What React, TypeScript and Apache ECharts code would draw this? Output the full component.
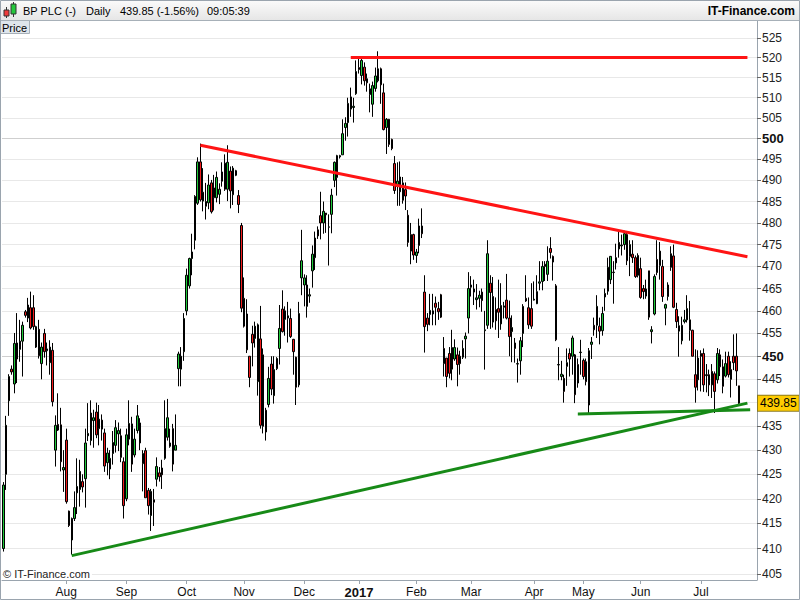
import React, { useEffect, useRef } from "react";
import * as echarts from "echarts";

// ---- Data (BP PLC daily, 29 Jun 2016 -> 24 Jul 2017) ----
const opens = [
  410.0, 425.0, 440.4, 447.2, 444.0, 452.9, 451.5, 453.3, 459.8, 458.4,
  460.7, 460.7, 452.0, 455.9, 448.4, 455.0, 451.2, 448.6, 451.3, 430.0,
  435.4, 435.3, 425.9, 432.1, 417.5, 411.7, 416.0, 421.2, 421.9, 423.5,
  424.1, 433.0, 432.0, 436.2, 438.0, 436.5, 436.3, 433.6, 427.4, 426.1,
  429.3, 431.0, 433.4, 433.0, 427.6, 420.0, 432.3, 435.5, 429.0, 434.1,
  435.7, 427.2, 429.9, 421.7, 416.6, 419.8, 424.0, 425.3, 426.3, 428.3,
  432.7, 430.8, 434.5, 430.0, 447.3, 447.2, 451.0, 460.0, 465.6, 471.8,
  476.0, 484.6, 494.4, 487.2, 483.9, 484.7, 489.4, 485.9, 485.9, 486.7,
  489.8, 494.1, 487.9, 492.2, 486.6, 491.2, 486.4, 479.4, 462.8, 459.3,
  450.0, 454.8, 453.9, 444.5, 453.8, 450.3, 438.4, 439.6, 448.3, 441.5,
  447.3, 451.7, 460.4, 460.0, 458.4, 458.3, 453.7, 449.8, 443.8, 467.4,
  465.8, 461.0, 463.3, 469.0, 472.0, 478.4, 481.7, 480.0, 482.3, 479.0,
  482.0, 490.0, 490.7, 495.6, 496.1, 502.7, 503.9, 507.2, 507.6, 511.0,
  517.5, 515.5, 517.6, 514.7, 510.8, 508.4, 512.3, 514.2, 517.2, 511.2,
  502.7, 504.7, 499.8, 494.0, 488.6, 490.8, 489.4, 487.8, 481.8, 477.3,
  477.3, 472.5, 474.8, 479.3, 464.2, 458.4, 459.2, 459.3, 461.7, 460.5,
  463.6, 451.7, 449.6, 450.6, 447.2, 449.4, 450.3, 450.0, 449.8, 453.8,
  458.4, 465.3, 464.2, 462.5, 462.8, 464.2, 455.6, 456.8, 466.2, 463.2,
  460.3, 460.5, 457.1, 460.8, 462.4, 458.4, 455.4, 452.9, 448.3, 449.0,
  455.0, 462.8, 460.7, 460.5, 462.4, 461.6, 466.2, 466.6, 470.5, 468.2,
  474.1, 472.3, 465.6, 448.1, 445.6, 445.2, 447.8, 450.6, 450.0, 450.3,
  448.2, 450.8, 449.1, 448.8, 439.5, 452.6, 456.8, 456.8, 456.6, 455.6,
  463.1, 464.4, 467.0, 468.6, 470.8, 474.0, 474.7, 475.0, 477.3, 472.3,
  472.8, 472.0, 468.0, 469.5, 465.0, 463.3, 469.0, 455.4, 459.3, 471.6,
  473.5, 470.0, 460.6, 463.2, 469.8, 472.4, 460.3, 455.5, 453.4, 457.6,
  458.0, 458.0, 455.7, 446.0, 444.9, 450.6, 450.6, 446.0, 446.0, 446.7,
  446.2, 444.9, 450.3, 447.7, 445.7, 450.0, 447.1, 450.0, 450.0, 443.6,
];
const closes = [
  422.8, 435.2, 445.6, 446.6, 452.8, 449.4, 453.3, 456.8, 459.0, 461.3,
  456.2, 456.5, 456.5, 450.1, 452.0, 451.0, 451.6, 452.0, 440.2, 435.2,
  434.2, 427.6, 426.4, 419.4, 414.6, 416.0, 418.2, 422.5, 425.6, 422.4,
  431.5, 433.5, 437.8, 436.8, 433.2, 434.5, 434.4, 426.7, 429.4, 428.3,
  431.6, 434.7, 434.1, 428.5, 418.6, 433.2, 435.6, 427.1, 432.3, 437.2,
  431.5, 429.3, 420.2, 418.6, 421.5, 419.3, 426.6, 424.5, 424.9, 434.5,
  436.8, 431.5, 427.1, 431.0, 450.5, 450.0, 458.3, 468.0, 471.8, 473.3,
  486.2, 494.4, 485.4, 485.1, 485.0, 488.9, 482.6, 488.2, 490.7, 487.9,
  492.0, 487.9, 494.3, 487.5, 492.9, 492.3, 484.3, 460.6, 456.6, 451.4,
  445.4, 452.9, 456.6, 456.9, 435.2, 435.0, 433.8, 445.2, 442.9, 447.1,
  449.5, 456.1, 455.4, 458.1, 458.9, 454.3, 451.0, 443.3, 459.4, 471.3,
  467.4, 465.8, 463.6, 472.8, 476.5, 477.0, 480.0, 482.7, 481.9, 479.1,
  486.5, 494.3, 495.9, 495.9, 501.2, 503.7, 508.6, 510.2, 507.9, 516.5,
  517.0, 519.3, 514.2, 513.7, 512.2, 513.0, 515.4, 517.2, 513.2, 502.2,
  504.7, 498.6, 497.6, 487.6, 489.8, 487.3, 485.3, 486.3, 475.5, 473.5,
  472.6, 473.3, 479.3, 477.5, 456.5, 457.0, 460.1, 460.0, 460.8, 459.8,
  458.6, 448.4, 445.6, 446.3, 451.9, 451.9, 448.2, 448.4, 451.7, 454.4,
  465.0, 465.8, 464.9, 462.9, 463.5, 462.3, 455.8, 472.9, 464.1, 457.5,
  457.8, 459.7, 461.2, 461.1, 458.4, 454.3, 456.3, 451.7, 448.4, 453.4,
  461.0, 462.2, 456.9, 456.6, 462.6, 464.3, 466.5, 470.0, 470.0, 471.2,
  473.2, 471.0, 453.6, 448.2, 446.1, 442.4, 448.6, 449.4, 454.0, 441.7,
  444.2, 450.9, 445.6, 444.5, 451.2, 453.1, 455.8, 461.0, 455.5, 459.4,
  463.9, 469.8, 472.3, 468.7, 472.0, 475.5, 474.9, 477.5, 471.3, 475.0,
  472.0, 467.7, 472.5, 463.0, 464.3, 464.9, 458.6, 455.8, 467.7, 468.6,
  470.2, 463.2, 461.4, 465.8, 472.9, 460.8, 457.6, 456.7, 456.8, 458.0,
  460.5, 455.7, 450.0, 443.3, 449.6, 450.0, 443.8, 445.8, 443.8, 443.8,
  442.4, 450.6, 447.7, 443.5, 448.4, 446.0, 445.0, 448.6, 446.82, 439.85,
];
const lows = [
  409.4, 421.8, 437.2, 446.0, 442.0, 444.2, 448.8, 445.6, 458.5, 457.5,
  455.9, 455.8, 451.8, 449.5, 445.0, 449.7, 448.0, 446.0, 439.2, 426.6,
  434.0, 425.6, 421.4, 419.0, 414.3, 408.8, 415.5, 416.9, 418.4, 421.3,
  418.2, 431.9, 431.0, 430.5, 432.5, 431.0, 432.0, 425.5, 424.8, 424.0,
  427.0, 429.5, 429.8, 427.5, 416.0, 419.5, 431.0, 425.5, 428.5, 433.5,
  430.0, 421.5, 420.2, 416.8, 413.5, 414.5, 422.5, 423.5, 422.0, 428.0,
  432.0, 430.5, 425.6, 430.0, 443.5, 443.5, 449.0, 459.0, 465.0, 468.0,
  473.9, 484.2, 485.0, 482.7, 480.8, 483.2, 482.2, 482.9, 484.8, 484.4,
  488.5, 487.5, 485.1, 483.4, 484.2, 491.0, 482.3, 459.7, 456.3, 450.7,
  443.3, 447.8, 451.9, 441.5, 434.5, 433.5, 432.0, 439.0, 441.6, 439.8,
  447.0, 448.2, 455.2, 454.5, 453.0, 454.0, 446.0, 439.5, 443.3, 463.5,
  461.0, 458.5, 461.8, 465.2, 469.2, 476.3, 476.2, 477.5, 477.7, 470.2,
  477.6, 488.4, 486.4, 495.2, 496.1, 499.5, 500.5, 505.3, 503.9, 510.7,
  516.0, 513.3, 513.0, 511.5, 506.4, 505.3, 511.5, 513.8, 508.5, 502.0,
  496.3, 498.0, 497.2, 486.8, 484.0, 484.0, 484.5, 483.0, 474.5, 470.5,
  471.5, 470.8, 473.0, 476.5, 450.8, 455.5, 456.8, 456.8, 456.8, 458.0,
  458.4, 445.6, 443.3, 445.2, 444.8, 449.0, 443.5, 446.0, 449.4, 449.5,
  455.0, 463.2, 461.3, 460.3, 460.8, 459.8, 447.1, 456.0, 456.0, 456.3,
  455.8, 454.0, 455.8, 458.3, 458.1, 450.0, 448.7, 448.6, 444.3, 446.0,
  452.0, 462.0, 456.0, 456.0, 462.3, 461.5, 464.6, 464.6, 466.7, 466.7,
  471.8, 466.8, 453.3, 444.8, 444.8, 440.0, 443.6, 445.6, 446.0, 439.9,
  443.2, 446.0, 445.0, 443.7, 437.6, 449.4, 454.5, 454.0, 452.6, 454.5,
  460.0, 463.6, 466.0, 461.6, 469.3, 472.0, 472.5, 473.8, 470.3, 467.8,
  470.8, 467.4, 467.5, 462.7, 462.6, 462.7, 458.0, 452.8, 459.0, 468.0,
  467.0, 462.0, 456.8, 462.3, 469.0, 460.6, 456.2, 449.9, 452.6, 457.2,
  457.4, 453.4, 450.0, 440.0, 442.6, 442.4, 442.3, 442.2, 441.4, 441.0,
  437.8, 444.1, 445.7, 442.0, 445.4, 445.4, 441.1, 447.0, 443.6, 439.7,
];
const highs = [
  423.4, 437.2, 446.1, 448.0, 455.1, 459.5, 458.0, 457.6, 460.2, 462.9,
  464.3, 463.5, 456.7, 458.0, 453.0, 456.0, 453.0, 453.5, 452.9, 437.3,
  442.0, 438.9, 430.0, 434.5, 417.6, 416.2, 421.5, 428.3, 428.0, 425.0,
  434.5, 439.9, 440.5, 438.5, 440.0, 439.5, 437.5, 434.5, 430.5, 430.0,
  434.0, 436.3, 435.8, 434.5, 428.5, 434.5, 440.5, 437.0, 434.5, 439.5,
  436.7, 430.0, 430.5, 422.2, 422.0, 422.0, 428.5, 426.5, 428.0, 440.5,
  440.8, 434.5, 435.5, 437.5, 451.0, 452.0, 459.5, 469.5, 472.0, 477.5,
  486.5, 495.5, 498.8, 492.9, 489.4, 491.4, 490.1, 491.3, 492.1, 489.3,
  494.3, 496.2, 498.4, 493.3, 493.4, 492.5, 487.7, 480.0, 467.5, 462.6,
  450.0, 456.7, 457.6, 457.2, 461.1, 451.7, 438.9, 447.7, 450.0, 450.0,
  449.8, 461.3, 464.6, 461.0, 462.0, 460.5, 453.8, 449.9, 462.0, 478.4,
  468.2, 468.0, 465.0, 474.8, 478.0, 479.2, 487.3, 485.0, 482.3, 482.0,
  488.0, 494.5, 496.1, 496.1, 504.7, 505.2, 510.0, 512.5, 510.0, 519.3,
  520.2, 520.2, 518.8, 516.0, 513.5, 514.0, 517.5, 521.6, 517.5, 513.5,
  505.0, 504.8, 500.0, 495.8, 494.3, 494.5, 490.8, 489.5, 483.0, 480.0,
  477.5, 474.0, 481.0, 483.4, 468.0, 459.5, 463.8, 463.8, 463.2, 462.0,
  463.8, 454.2, 449.6, 452.0, 455.8, 453.7, 451.9, 451.2, 453.5, 455.2,
  468.7, 467.8, 467.0, 466.0, 464.5, 465.0, 460.0, 476.0, 468.0, 467.6,
  463.0, 467.0, 466.2, 462.0, 468.3, 462.3, 459.0, 454.0, 449.5, 454.2,
  461.5, 468.0, 463.0, 466.2, 466.6, 468.0, 471.2, 471.2, 471.2, 474.6,
  476.7, 472.5, 466.0, 452.0, 449.0, 446.0, 451.7, 451.7, 454.5, 450.5,
  449.5, 453.6, 449.5, 449.5, 451.8, 454.2, 458.5, 463.5, 458.5, 460.9,
  465.0, 472.0, 472.3, 471.2, 475.2, 478.0, 477.3, 478.2, 477.9, 476.0,
  476.0, 472.5, 473.0, 472.0, 465.8, 467.0, 469.0, 456.6, 468.2, 476.0,
  475.6, 471.5, 461.6, 466.4, 474.6, 475.0, 461.8, 458.8, 458.7, 460.2,
  463.5, 462.2, 455.8, 451.5, 451.3, 451.3, 451.7, 448.3, 447.1, 448.3,
  446.7, 451.8, 451.5, 449.3, 451.0, 451.0, 448.9, 454.8, 455.0, 443.6,
];

const yTicks = [
  405, 410, 415, 420, 425, 430, 435, 440, 445, 450, 455, 460, 465,
  470, 475, 480, 485, 490, 495, 500, 505, 510, 515, 520, 525,
];
const boldTicks = [450, 500];
const monthNames = ["Jan", "Feb", "Mar", "Apr", "May", "Jun", "Jul", "Aug", "Sep", "Oct", "Nov", "Dec"];
const firstSession = "2016-06-29";
const firstLabelledMonth = "2016-08";
const holidays = [
  "2016-08-29", "2016-12-26", "2016-12-27", "2017-01-02",
  "2017-04-14", "2017-04-17", "2017-05-01", "2017-05-29",
];
const emptySessionsAfter = 6;

// Trend lines: [categoryIndex, price] pairs
const resistanceFlat = [[127, 520.0], [272, 520.0]];
const resistanceFalling = [[72, 498.4], [272, 472.2]];
const supportRising = [[25, 408.6], [272, 439.9]];
const supportFlat = [[210, 437.6], [273, 438.5]];

const title = "BP PLC (-)";
const period = "Daily";
const clock = "09:05:39";

function tradingDays(n: number): string[] {
  const out: string[] = [];
  const [y, m, d] = firstSession.split("-").map(Number);
  const cur = new Date(Date.UTC(y, m - 1, d));
  while (out.length < n) {
    const dow = cur.getUTCDay();
    const s = cur.toISOString().slice(0, 10);
    if (dow !== 0 && dow !== 6 && !holidays.includes(s)) out.push(s);
    cur.setUTCDate(cur.getUTCDate() + 1);
  }
  return out;
}

const FONT = "'Liberation Sans', Arial, sans-serif";

export default function App() {
  const ref = useRef<HTMLDivElement>(null);

  useEffect(() => {
    if (!ref.current) return;
    const chart = echarts.init(ref.current, null, { renderer: "svg", width: 800, height: 600 });

    const dates = tradingDays(opens.length + emptySessionsAfter);
    const candles = opens.map((o, i) => [o, closes[i], lows[i], highs[i]]);
    const isMonthStart = (i: number) =>
      i > 0 &&
      dates[i].slice(0, 7) !== dates[i - 1].slice(0, 7) &&
      dates[i].slice(0, 7) >= firstLabelledMonth;

    const last = closes[closes.length - 1];
    const prev = closes[closes.length - 2];
    const pct = ((last - prev) / prev) * 100;
    const lastText = last.toFixed(2);
    const pctText = `${last.toFixed(2)} (${pct >= 0 ? "+" : ""}${pct.toFixed(2)}%)`;

    // the last-price box hides the tick label it covers
    const labelTicks = yTicks.filter((v) => Math.abs(v - last) > 2.5);
    const splitColors = yTicks.map((v) => (boldTicks.includes(v) ? "#cfcfcf" : "#e8e8e8"));

    const seg = (pts: number[][], color: string) => [
      { coord: pts[0], lineStyle: { color, width: 3, type: "solid" } },
      { coord: pts[1] },
    ];

    const option: any = {
      animation: false,
      backgroundColor: "#ffffff",
      textStyle: { fontFamily: FONT },
      grid: { left: 2, right: 43, top: 21, bottom: 20, show: false },
      xAxis: {
        type: "category",
        data: dates,
        boundaryGap: true,
        axisLine: { show: true, lineStyle: { color: "#9aa4ae", width: 1 } },
        axisTick: {
          show: true,
          alignWithLabel: true,
          interval: (i: number) => isMonthStart(i),
          length: 4,
          lineStyle: { color: "#9aa4ae" },
        },
        axisLabel: {
          interval: (i: number) => isMonthStart(i),
          formatter: (v: string) => {
            const m = Number(v.slice(5, 7));
            return m === 1 ? `{y|${v.slice(0, 4)}}` : monthNames[m - 1];
          },
          color: "#111",
          fontSize: 12,
          fontFamily: FONT,
          margin: 6,
          rich: { y: { fontWeight: "bold", fontSize: 13, color: "#111", fontFamily: FONT } },
        },
        splitLine: { show: false },
      },
      yAxis: {
        type: "log",
        logBase: 10,
        position: "right",
        min: 403.8,
        max: 529.3,
        axisLine: { show: true, lineStyle: { color: "#9aa4ae" } },
        axisTick: { show: true, customValues: yTicks, length: 4, lineStyle: { color: "#666" } },
        axisLabel: {
          customValues: labelTicks,
          formatter: (v: number) => {
            const r = Math.round(v);
            return boldTicks.includes(r) ? `{b|${r}}` : `${r}`;
          },
          color: "#222",
          fontSize: 12,
          fontFamily: FONT,
          margin: 5,
          rich: { b: { fontWeight: "bold", fontSize: 13, color: "#111", fontFamily: FONT } },
        },
        splitLine: { show: true, lineStyle: { color: splitColors, width: 1 } },
      },
      series: [
        {
          type: "candlestick",
          data: candles,
          barWidth: 2,
          itemStyle: {
            color: "#1fc93a",
            color0: "#f21c1c",
            borderColor: "#000",
            borderColor0: "#000",
            borderColorDoji: "#000",
            borderWidth: 1,
          },
          markLine: {
            silent: true,
            symbol: ["none", "none"],
            label: { show: false },
            lineStyle: { type: "solid" },
            data: [
              seg(resistanceFlat, "#ff1414"),
              seg(resistanceFalling, "#ff1414"),
              seg(supportRising, "#178a17"),
              seg(supportFlat, "#178a17"),
              {
                yAxis: last,
                lineStyle: { color: "rgba(0,0,0,0)", width: 1 },
                label: {
                  show: true,
                  position: "end",
                  distance: 1,
                  formatter: lastText,
                  color: "#000",
                  fontSize: 12,
                  fontFamily: FONT,
                  backgroundColor: "#ffcc00",
                  borderColor: "#8a7a20",
                  borderWidth: 1,
                  padding: [2, 2, 1, 2],
                  opacity: 1,
                },
              },
            ],
          },
        },
      ],
      graphic: [
        {
          type: "rect",
          shape: { x: 0, y: 0, width: 800, height: 20 },
          style: {
            fill: new echarts.graphic.LinearGradient(0, 0, 0, 1, [
              { offset: 0, color: "#fbfbfb" },
              { offset: 1, color: "#e6e6e6" },
            ]),
          },
          z: 10,
        },
        { type: "line", shape: { x1: 0, y1: 20.5, x2: 800, y2: 20.5 }, style: { stroke: "#a7b0b8", lineWidth: 1 }, z: 11 },
        // icon
        { type: "line", shape: { x1: 6.5, y1: 7, x2: 6.5, y2: 18 }, style: { stroke: "#333", lineWidth: 1 }, z: 11 },
        { type: "rect", shape: { x: 4, y: 10, width: 5, height: 6 }, style: { fill: "#ef3b3b", stroke: "#333", lineWidth: 1 }, z: 12 },
        { type: "line", shape: { x1: 13.5, y1: 2, x2: 13.5, y2: 17 }, style: { stroke: "#333", lineWidth: 1 }, z: 11 },
        { type: "rect", shape: { x: 11, y: 4, width: 5, height: 10 }, style: { fill: "#25c83c", stroke: "#333", lineWidth: 1 }, z: 12 },
        { type: "text", x: 23, y: 11, style: { text: title, font: `11px ${FONT}`, fill: "#000", verticalAlign: "middle" }, z: 12 },
        { type: "text", x: 86, y: 11, style: { text: period, font: `11px ${FONT}`, fill: "#000", verticalAlign: "middle" }, z: 12 },
        { type: "text", x: 120, y: 11, style: { text: pctText, font: `11px ${FONT}`, fill: "#000", verticalAlign: "middle" }, z: 12 },
        { type: "text", x: 207, y: 11, style: { text: clock, font: `11px ${FONT}`, fill: "#000", verticalAlign: "middle" }, z: 12 },
        { type: "text", x: 795, y: 11, style: { text: "IT-Finance.com", font: `bold 12px ${FONT}`, fill: "#000", align: "right", verticalAlign: "middle" }, z: 12 },
        // Price box
        { type: "rect", shape: { x: 0.5, y: 20.5, width: 29, height: 13 }, style: { fill: "#dfe5eb", stroke: "#a7b0b8", lineWidth: 1 }, z: 12 },
        { type: "text", x: 2, y: 27.5, style: { text: "Price", font: `11px ${FONT}`, fill: "#000", verticalAlign: "middle" }, z: 13 },
        // copyright
        {
          type: "text",
          x: 3,
          y: 574,
          style: {
            text: "© IT-Finance.com",
            font: `11px ${FONT}`,
            fill: "#222",
            verticalAlign: "middle",
            backgroundColor: "#fff",
            padding: [0, 2, 0, 0],
          },
          z: 12,
        },
        // outer frame
        { type: "rect", shape: { x: 0.5, y: 0.5, width: 799, height: 599 }, style: { fill: "none", stroke: "#9aa4ae", lineWidth: 1 }, z: 20 },
      ],
    };

    chart.setOption(option);
    return () => chart.dispose();
  }, []);

  return (
    <div
      ref={ref}
      style={{ position: "fixed", left: 0, top: 0, width: 800, height: 600, background: "#fff" }}
    />
  );
}
